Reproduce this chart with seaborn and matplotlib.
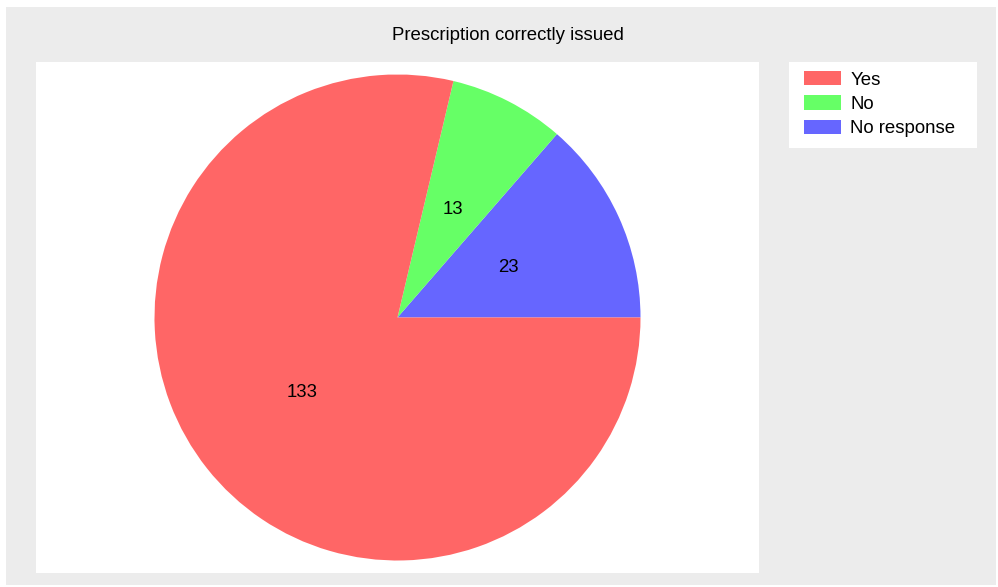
import matplotlib
matplotlib.use("Agg")
import matplotlib.pyplot as plt
import seaborn as sns
from matplotlib.patches import Patch, Rectangle

sns.set_style("white")
plt.rcParams['font.family'] = ['Liberation Sans', 'DejaVu Sans']

title = "Prescription correctly issued"
categories = ["Yes", "No", "No response"]
values = [133, 13, 23]
colors = ["#ff6666", "#66ff66", "#6666ff"]

# draw order (counterclockwise from east): No response, No, Yes
order = [2, 1, 0]

W, H = 998, 587
FS = 13.4
fig = plt.figure(figsize=(W / 100, H / 100), dpi=100)
fig.patch.set_facecolor("white")

bg = fig.add_axes([6 / W, 2 / H, 990 / W, 578 / H], zorder=-5)
bg.set_facecolor("#ececec")
bg.set_xticks([])
bg.set_yticks([])
for s in bg.spines.values():
    s.set_visible(False)
# legend box background
bg.add_patch(Rectangle((789 / W, 1 - 148 / H), 188 / W, 86 / H, transform=fig.transFigure,
                       facecolor="white", edgecolor="none"))

ax = fig.add_axes([36 / W, 1 - 573 / H, 723 / W, 511 / H], zorder=1)
wedges, texts = ax.pie([values[i] for i in order], colors=[colors[i] for i in order],
                       labels=[str(values[i]) for i in order], labeldistance=0.5,
                       startangle=0, counterclock=True,
                       wedgeprops=dict(linewidth=0),
                       textprops=dict(fontsize=FS, color="black"))
for t in texts:
    t.set_ha("center")
    t.set_va("center")
r = 243.0
ax.set_aspect("auto")
ax.set_xlim(-361.5 / r, 361.5 / r)
ax.set_ylim(-255.5 / r, 255.5 / r)
ax.set_frame_on(True)
ax.set_xticks([])
ax.set_yticks([])
for s in ax.spines.values():
    s.set_visible(False)
ax.set_facecolor("white")

fig.text(508 / W, 1 - 35 / H, title, ha="center", va="center", fontsize=FS, color="black")

handles = [Patch(facecolor=c, edgecolor="none") for c in colors]
leg = fig.legend(handles, categories, loc="upper left",
                 bbox_to_anchor=(804 / W, 1 - 71 / H), bbox_transform=fig.transFigure,
                 borderaxespad=0, frameon=False, fontsize=FS,
                 handlelength=2.0, handleheight=0.8, handletextpad=0.48,
                 labelspacing=0.36, borderpad=0)
for t in leg.get_texts():
    t.set_color("black")

fig.savefig("out.png", dpi=100, facecolor=fig.get_facecolor())
